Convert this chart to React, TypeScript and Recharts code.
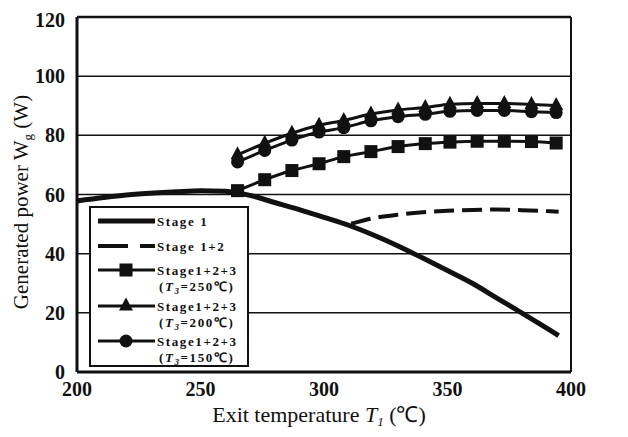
import React from 'react';
import { LineChart, Line, XAxis, YAxis, CartesianGrid, ReferenceLine, Legend } from 'recharts';

// Exit temperature T1 (°C) and generated power Wg (W)
const stage1Temps = [200, 220, 240, 250, 260, 270, 280, 290, 300, 310, 320, 330, 340, 350, 360, 370, 380, 390, 395];
const stage1Power = [57.8, 59.8, 60.9, 61.3, 61.1, 59.7, 57.3, 54.9, 52.3, 49.6, 46.3, 42.6, 38.5, 34.3, 30.0, 25.0, 20.0, 14.9, 12.3];

const stage12Temps = [311, 320, 330, 340, 350, 360, 370, 380, 390, 395];
const stage12Power = [50.1, 52.0, 53.2, 54.0, 54.5, 54.8, 54.9, 54.7, 54.4, 54.2];

const markerTemps = [265, 276, 287, 298, 308, 319, 330, 341, 351, 362, 373, 384, 394];
const stage123T250 = [61.3, 65.0, 68.1, 70.4, 72.8, 74.5, 76.2, 77.2, 77.7, 78.0, 78.0, 77.9, 77.4];
const stage123T200 = [73.4, 77.3, 80.7, 83.4, 85.0, 87.2, 88.6, 89.4, 90.5, 90.8, 90.8, 90.4, 90.1];
const stage123T150 = [71.0, 74.9, 78.4, 81.1, 82.6, 84.9, 86.3, 87.1, 88.1, 88.4, 88.4, 88.0, 87.7];

const xTicks = [200, 250, 300, 350, 400];
const yTicks = [0, 20, 40, 60, 80, 100, 120];

const SERIF = '"Liberation Serif", "Times New Roman", serif';

const toRows = (temps: number[], values: number[]) => temps.map((t, i) => ({ t, w: values[i] }));

type DotProps = { cx?: number; cy?: number; index?: number };

const squareDot = ({ cx = 0, cy = 0, index }: DotProps) => (
    <rect key={`sq-${index}`} x={cx - 6.5} y={cy - 6.5} width={13} height={13} fill="#111" />
);
const triangleDot = ({ cx = 0, cy = 0, index }: DotProps) => (
    <polygon key={`tr-${index}`} points={`${cx},${cy - 8.5} ${cx + 7},${cy + 4.5} ${cx - 7},${cy + 4.5}`} fill="#111" />
);
const circleDot = ({ cx = 0, cy = 0, index }: DotProps) => (
    <circle key={`ci-${index}`} cx={cx} cy={cy} r={6.5} fill="#111" />
);

function XTitle({ viewBox }: any) {
    const x = viewBox.x + viewBox.width / 2 - 5;
    const y = viewBox.y + 50;
    return (
        <text x={x} y={y} textAnchor="middle" fontFamily={SERIF} fontSize={22} fill="#111">
            Exit temperature <tspan fontStyle="italic">T</tspan>
            <tspan fontStyle="italic" fontSize={13} dy={4}>1</tspan>
            <tspan dy={-4}> (℃)</tspan>
        </text>
    );
}

function YTitle() {
    const x = 20;
    const y = 194;
    return (
        <text x={x} y={y} textAnchor="middle" fontFamily={SERIF} fontSize={21} fill="#111"
            transform={`rotate(-90, ${x}, ${y})`}>
            Generated power W<tspan fontSize={13} dy={4}>g</tspan>
            <tspan dy={-4}>  (W)</tspan>
        </text>
    );
}

function LegendBox() {
    const textX = 68;
    const rows = [
        { y: 15, kind: 'solid' },
        { y: 40, kind: 'dash' },
        { y: 64, kind: 'square', temp: '250' },
        { y: 100, kind: 'triangle', temp: '200' },
        { y: 135, kind: 'circle', temp: '150' },
    ];
    const textStyle = { fontFamily: SERIF, fontSize: 13, fontWeight: 700, letterSpacing: 1.6 };
    return (
        <svg width={160} height={161} style={{ display: 'block' }}>
            <rect x={1} y={1} width={158} height={159} fill="#fff" stroke="#111" strokeWidth={2} />
            {rows.map((r) => (
                <g key={r.y}>
                    {r.kind === 'solid' && <line x1={9} x2={66} y1={r.y} y2={r.y} stroke="#111" strokeWidth={5} />}
                    {r.kind === 'dash' && <line x1={9} x2={66} y1={r.y} y2={r.y} stroke="#111" strokeWidth={4} strokeDasharray="30 12" />}
                    {r.temp && <line x1={9} x2={66} y1={r.y} y2={r.y} stroke="#111" strokeWidth={3} />}
                    {r.kind === 'square' && squareDot({ cx: 37, cy: r.y, index: 0 })}
                    {r.kind === 'triangle' && triangleDot({ cx: 37, cy: r.y, index: 0 })}
                    {r.kind === 'circle' && circleDot({ cx: 37, cy: r.y, index: 0 })}
                    <text x={textX} y={r.y + 5} fill="#111" style={textStyle}>
                        {r.kind === 'solid' ? 'Stage 1' : r.kind === 'dash' ? 'Stage 1+2' : 'Stage1+2+3'}
                    </text>
                    {r.temp && (
                        <text x={textX + 2} y={r.y + 21} fill="#111" style={textStyle}>
                            (<tspan fontStyle="italic">T</tspan>
                            <tspan fontStyle="italic" fontSize={9} dy={3}>3</tspan>
                            <tspan dy={-3}>={r.temp}℃)</tspan>
                        </text>
                    )}
                </g>
            ))}
        </svg>
    );
}

export default function App() {
    const tickStyle = { fontFamily: SERIF, fontSize: 20, fontWeight: 700, fill: '#111' };
    return (
        <LineChart width={620} height={425} margin={{ top: 9, right: 57, left: 9, bottom: 21 }}>
            <CartesianGrid vertical={false} stroke="#111" strokeWidth={1.5} />
            <XAxis
                type="number"
                dataKey="t"
                domain={[200, 400]}
                ticks={xTicks}
                allowDuplicatedCategory={false}
                height={40}
                tickSize={0}
                tickMargin={10}
                tick={tickStyle}
                axisLine={{ stroke: '#111', strokeWidth: 3 }}
                label={<XTitle />}
            />
            <YAxis
                type="number"
                domain={[0, 120]}
                ticks={yTicks}
                width={60}
                tickSize={0}
                tickMargin={12}
                tick={tickStyle}
                axisLine={{ stroke: '#111', strokeWidth: 3 }}
                label={<YTitle />}
            />
            <ReferenceLine y={120} stroke="#111" strokeWidth={2.5} />
            <ReferenceLine x={400} stroke="#111" strokeWidth={2} />
            <Line data={toRows(stage1Temps, stage1Power)} dataKey="w" type="monotone" stroke="#111"
                strokeWidth={5} dot={false} activeDot={false} isAnimationActive={false} name="Stage 1" />
            <Line data={toRows(stage12Temps, stage12Power)} dataKey="w" type="monotone" stroke="#111"
                strokeWidth={4} strokeDasharray="20 8" dot={false} activeDot={false} isAnimationActive={false} name="Stage 1+2" />
            <Line data={toRows(markerTemps, stage123T250)} dataKey="w" type="monotone" stroke="#111"
                strokeWidth={3} dot={squareDot} activeDot={false} isAnimationActive={false} name="T3=250" />
            <Line data={toRows(markerTemps, stage123T150)} dataKey="w" type="monotone" stroke="#111"
                strokeWidth={3} dot={circleDot} activeDot={false} isAnimationActive={false} name="T3=150" />
            <Line data={toRows(markerTemps, stage123T200)} dataKey="w" type="monotone" stroke="#111"
                strokeWidth={3} dot={triangleDot} activeDot={false} isAnimationActive={false} name="T3=200" />
            <Legend
                layout="vertical"
                align="center"
                verticalAlign="middle"
                content={() => <LegendBox />}
                wrapperStyle={{ left: 81, top: 198, width: 160, height: 161 }}
            />
        </LineChart>
    );
}
